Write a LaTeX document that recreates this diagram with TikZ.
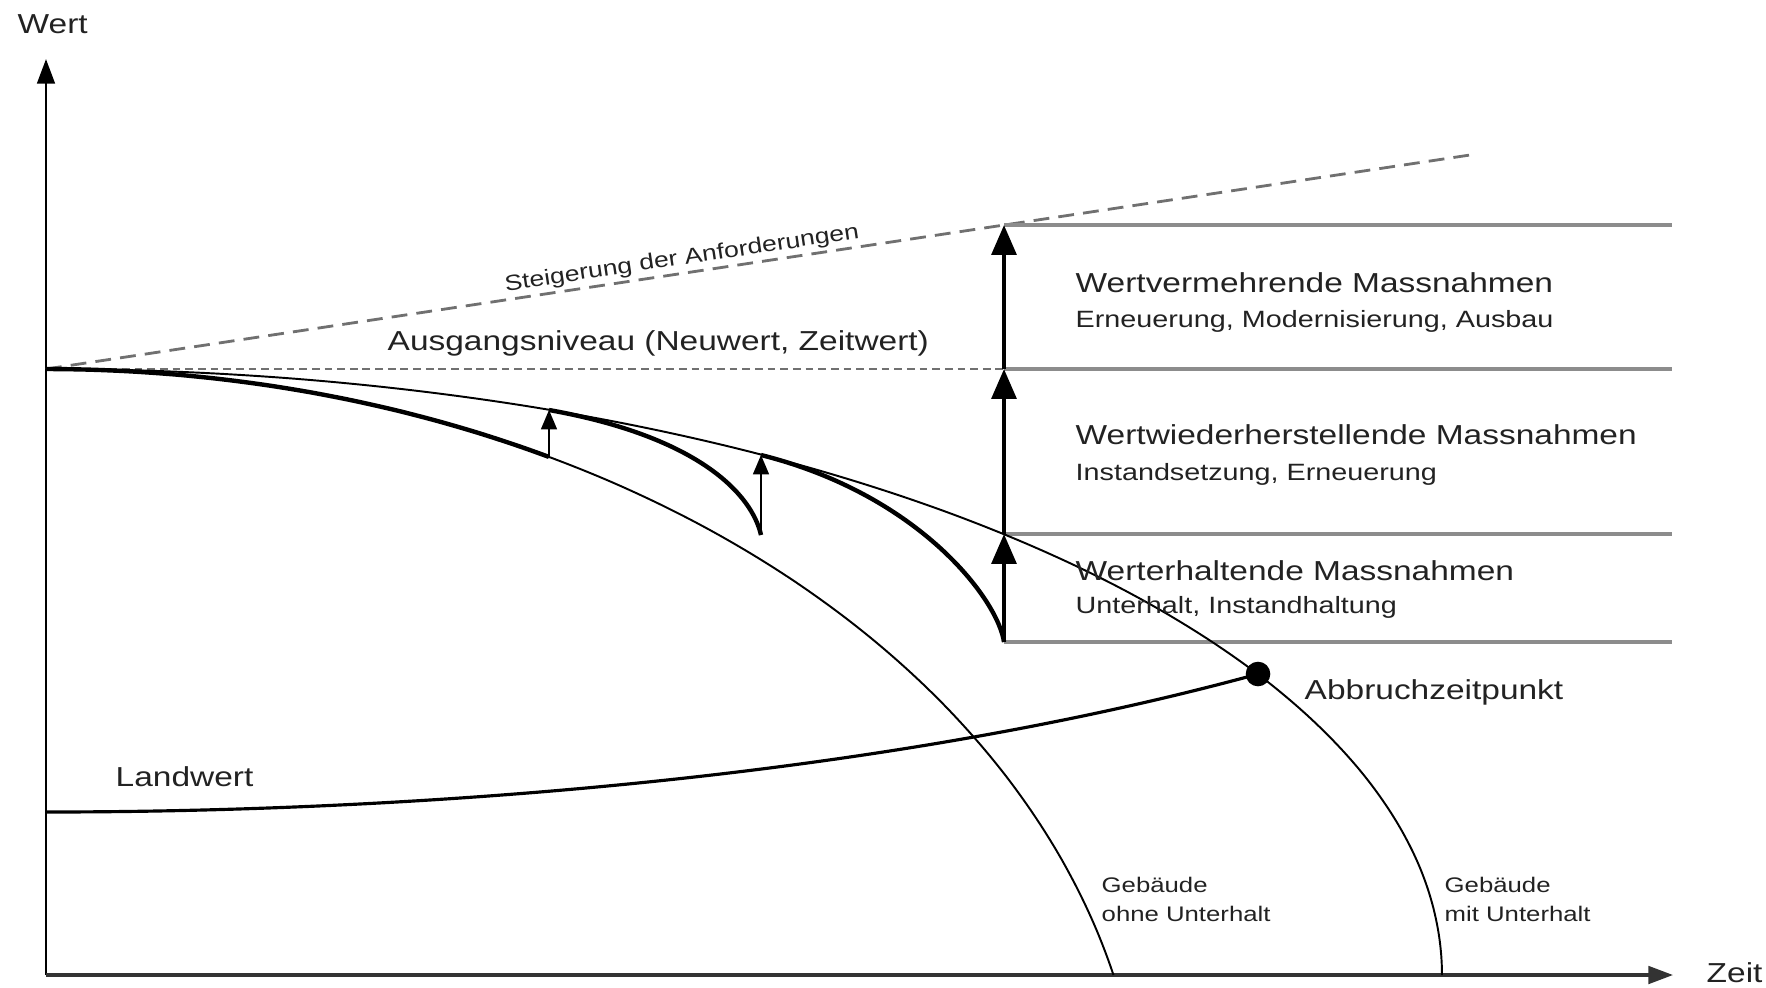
\documentclass[tikz,border=0pt]{standalone}
\usepackage{fontspec}
\setmainfont{Liberation Sans}[FakeStretch=1.22]
\usetikzlibrary{arrows.meta}
\definecolor{txt}{HTML}{222222}
\definecolor{lgray}{HTML}{8C8C8C}
\definecolor{dgray}{HTML}{707070}
\begin{document}
\begin{tikzpicture}[x=0.01cm,y=-0.01cm,
  lbl/.style={inner sep=0pt, text=txt, font=\fontsize{7.8}{9}\selectfont},
  sublbl/.style={inner sep=0pt, text=txt, font=\fontsize{6.7}{8}\selectfont},
  smalllbl/.style={inner sep=0pt, text=txt, font=\fontsize{6.0}{7}\selectfont},
  thinline/.style={line width=0.55pt},
  boldline/.style={line width=1.25pt},
  landline/.style={line width=0.9pt},
  levelline/.style={line width=1.1pt, draw=lgray},
  reqline/.style={line width=0.8pt, draw=dgray, dash pattern=on 4.5pt off 2.6pt},
  baseline/.style={line width=0.75pt, draw=dgray, dash pattern=on 2.2pt off 1.4pt},
  bigarrow/.style={line width=1.2pt, -{Triangle[length=8.5pt,width=7pt]}},
  smallarrow/.style={line width=0.6pt, -{Triangle[length=5.5pt,width=4.5pt]}},
  axisline/.style={line width=0.8pt, -{Triangle[length=7pt,width=5pt]}},
]
\useasboundingbox (0,0) rectangle (1766,987);

% key points
\coordinate (O) at (46,369);
\coordinate (ytop) at (46,59);
\coordinate (xo) at (46,975);
\coordinate (xend) at (1673,975);
\coordinate (S1) at (1470,155);
\coordinate (A1) at (1004,642);
\coordinate (A2) at (1004,534);
\coordinate (A3) at (1004,369);
\coordinate (A4) at (1004,225);
\coordinate (R1) at (1672,642);
\coordinate (R2) at (1672,534);
\coordinate (R3) at (1672,369);
\coordinate (R4) at (1672,225);
\coordinate (B1) at (549,457);
\coordinate (B2) at (549,410);
\coordinate (C1) at (761,535);
\coordinate (C2) at (761,455);
\coordinate (L0) at (46,812);

% axes
\draw[axisline] (xo) -- (ytop);
\draw[axisline, draw=black!80, line width=0.9pt] (xo) -- (xend);

% requirement line and base level
\draw[reqline] (O) -- (S1);
\draw[baseline] (O) -- (A3);

% level lines
\draw[levelline] (A4) -- (R4);
\draw[levelline] (A3) -- (R3);
\draw[levelline] (A2) -- (R2);
\draw[levelline] (A1) -- (R1);

% building without maintenance
\draw[thinline] plot[domain=-90:-13.53, samples=90, smooth] ({46+1098*cos(\x)},{1160+791*sin(\x)});
\draw[boldline] plot[domain=-90:-62.74, samples=40, smooth] ({46+1098*cos(\x)},{1160+791*sin(\x)});

% building with maintenance
\draw[thinline] plot[domain=-90:0, samples=100, smooth] ({46+1396*cos(\x)},{975+606*sin(\x)});

% maintenance cycles
\draw[boldline] (B2) .. controls (700,437) and (752,495) .. (C1);
\draw[boldline] (C2) .. controls (920,495) and (998,600) .. (A1);
\draw[smallarrow] (B1) -- (B2);
\draw[smallarrow] (C1) -- (C2);
\draw[bigarrow] (A1) -- (A2);
\draw[bigarrow] (A2) -- (A3);
\draw[bigarrow] (A3) -- (A4);

% land value and demolition point
\node[circle, fill=black, inner sep=0pt, minimum size=7pt] (D) at (1258,674) {};
\draw[landline] (L0) .. controls (450,812) and (900,772) .. (D.center);

% labels
\node[lbl, anchor=base west] (wert) at (17,33) {Wert};
\node[lbl, anchor=base west] (zeit) at (1706,982) {Zeit};
\node[inner sep=0pt, text=txt, font=\fontsize{6.2}{7}\selectfont, rotate=8.5] (steig) at (682,259) {Steigerung der Anforderungen};
\node[lbl, anchor=base west] (ausg) at (387,350) {Ausgangsniveau (Neuwert, Zeitwert)};
\node[lbl, anchor=base west] (wv) at (1075,292) {Wertvermehrende Massnahmen};
\node[sublbl, anchor=base west] (wvs) at (1075,327) {Erneuerung, Modernisierung, Ausbau};
\node[lbl, anchor=base west] (ww) at (1075,444) {Wertwiederherstellende Massnahmen};
\node[sublbl, anchor=base west] (wws) at (1075,480) {Instandsetzung, Erneuerung};
\node[lbl, anchor=base west] (we) at (1075,580) {Werterhaltende Massnahmen};
\node[sublbl, anchor=base west] (wes) at (1075,613) {Unterhalt, Instandhaltung};
\node[lbl, anchor=base west] (abb) at (1304,699) {Abbruchzeitpunkt};
\node[lbl, anchor=base west] (land) at (115,786) {Landwert};
\node[smalllbl, anchor=base west] (g1a) at (1101,892) {Gebäude};
\node[smalllbl, anchor=base west] (g1b) at (1101,921) {ohne Unterhalt};
\node[smalllbl, anchor=base west] (g2a) at (1444,892) {Gebäude};
\node[smalllbl, anchor=base west] (g2b) at (1444,921) {mit Unterhalt};
\end{tikzpicture}
\end{document}
